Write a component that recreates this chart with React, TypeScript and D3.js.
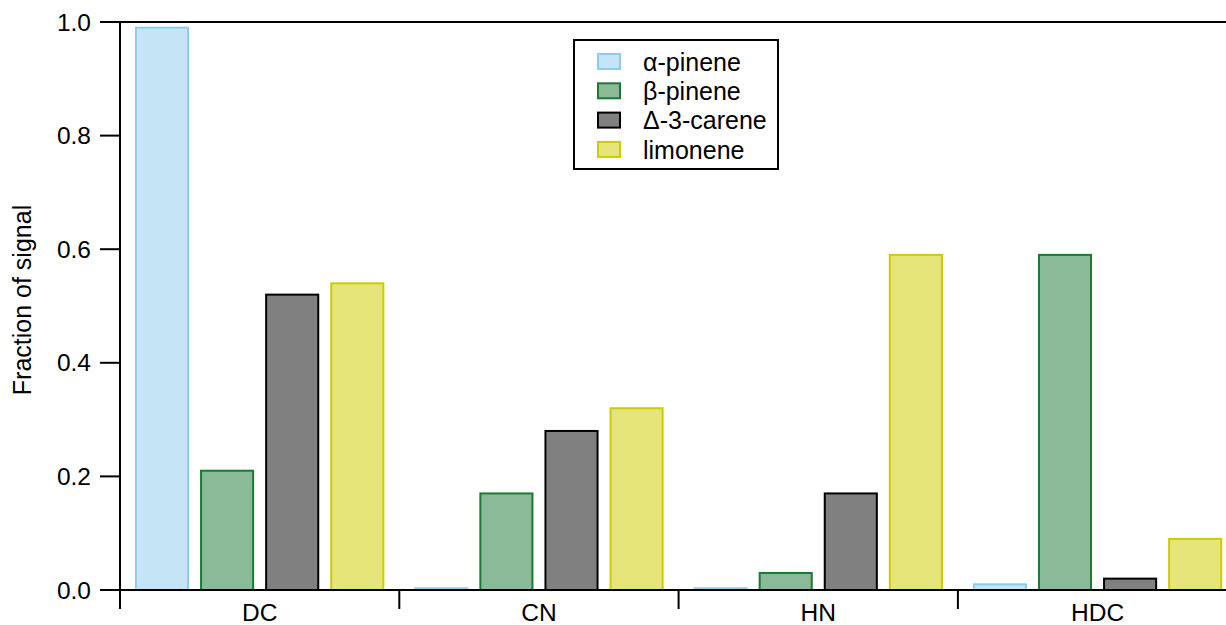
import React from "react";
import * as d3 from "d3";

const categories = ["DC", "CN", "HN", "HDC"];
const seriesNames = ["α-pinene", "β-pinene", "Δ-3-carene", "limonene"];
const alphaPinene = [0.99, 0.003, 0.003, 0.01];
const betaPinene = [0.21, 0.17, 0.03, 0.59];
const carene = [0.52, 0.28, 0.17, 0.02];
const limonene = [0.54, 0.32, 0.59, 0.09];
const yTicks = [0, 0.2, 0.4, 0.6, 0.8, 1.0];

const fills = ["#c5e4f5", "#8aba98", "#808080", "#e5e57a"];
const strokes = ["#8ccdee", "#1b7a32", "#000000", "#cccc00"];

export default function App() {
  const W = 1226;
  const H = 625;
  const x0 = 120;
  const catW = 279.3;
  const fs = 24.5;
  const y = d3.scaleLinear().domain([0, 1]).range([590, 22]);
  const xCat = d3
    .scaleBand<string>()
    .domain(categories)
    .range([x0, x0 + catW * categories.length]);
  const xSer = d3
    .scaleBand<string>()
    .domain(seriesNames)
    .range([0, xCat.bandwidth()])
    .paddingInner(0.169)
    .paddingOuter(0.23);
  const series = [alphaPinene, betaPinene, carene, limonene];
  const font = "'Liberation Sans', Arial, sans-serif";

  return (
    <svg
      width={W}
      height={H}
      style={{ position: "absolute", left: 0, top: 0, background: "#fff" }}
      fontFamily={font}
    >
      {categories.map((c, ci) =>
        series.map((vals, si) => {
          const v = vals[ci];
          const bx = (xCat(c) as number) + (xSer(seriesNames[si]) as number);
          return (
            <rect
              key={c + si}
              x={bx + 1}
              y={y(v)}
              width={xSer.bandwidth() - 2}
              height={Math.max(0, y(0) - y(v))}
              fill={fills[si]}
              stroke={strokes[si]}
              strokeWidth={2}
            />
          );
        })
      )}
      <line x1={100} x2={W} y1={y(1)} y2={y(1)} stroke="#000" strokeWidth={2} />
      <line x1={100} x2={W} y1={y(0)} y2={y(0)} stroke="#000" strokeWidth={2} />
      <line x1={x0} x2={x0} y1={y(1)} y2={609} stroke="#000" strokeWidth={2} />
      {yTicks.map((t) => (
        <g key={t}>
          <line x1={100} x2={x0} y1={y(t)} y2={y(t)} stroke="#000" strokeWidth={2} />
          <text
            x={91}
            y={y(t)}
            dy="0.35em"
            textAnchor="end"
            fontSize={fs}
            fill="#000"
          >
            {t.toFixed(1)}
          </text>
        </g>
      ))}
      {categories.map((c, ci) => (
        <g key={c}>
          {ci > 0 && (
            <line
              x1={xCat(c) as number}
              x2={xCat(c) as number}
              y1={y(0)}
              y2={609}
              stroke="#000"
              strokeWidth={2}
            />
          )}
          <text
            x={(xCat(c) as number) + xCat.bandwidth() / 2}
            y={621}
            textAnchor="middle"
            fontSize={fs}
            fill="#000"
          >
            {c}
          </text>
        </g>
      ))}
      <text
        transform={`translate(31,300) rotate(-90)`}
        textAnchor="middle"
        fontSize={25}
        fill="#000"
      >
        Fraction of signal
      </text>
      <rect x={574} y={40} width={204} height={129} fill="#fff" stroke="#000" strokeWidth={2} />
      {seriesNames.map((s, i) => (
        <g key={s}>
          <rect
            x={598}
            y={54 + i * 29.3}
            width={22}
            height={15}
            fill={fills[i]}
            stroke={strokes[i]}
            strokeWidth={2}
          />
          <text x={643} y={62 + i * 29.3} dy="0.35em" fontSize={25} fill="#000">
            {s}
          </text>
        </g>
      ))}
    </svg>
  );
}
